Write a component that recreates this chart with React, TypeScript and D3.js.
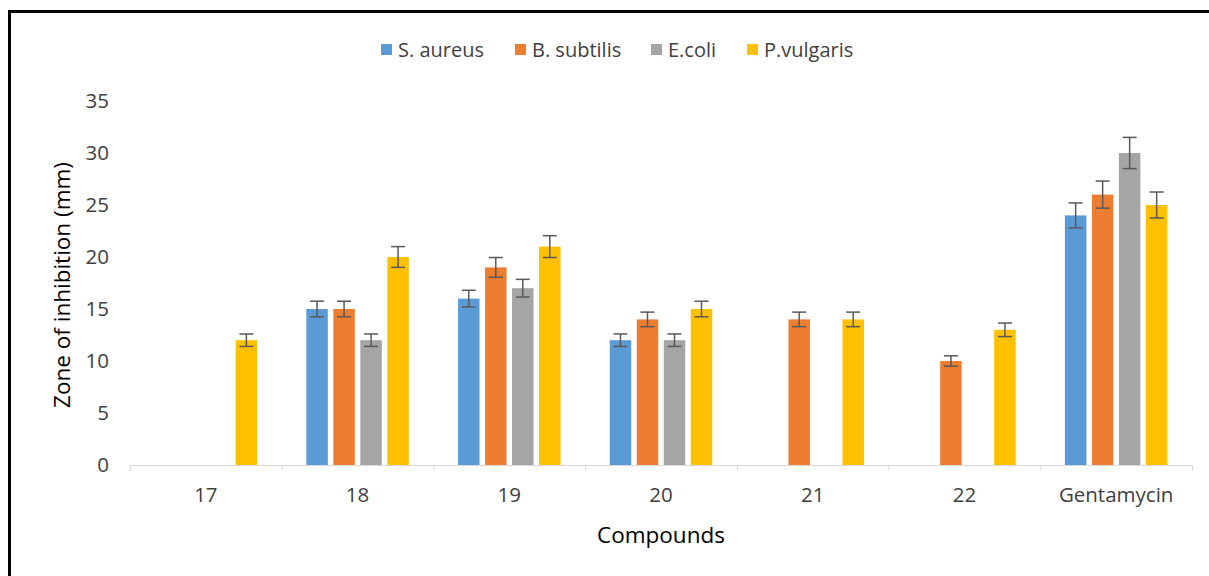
import React from "react";
import * as d3 from "d3";

const categories = ["17", "18", "19", "20", "21", "22", "Gentamycin"];
const seriesNames = ["S. aureus", "B. subtilis", "E.coli", "P.vulgaris"];
const sAureus = [0, 15, 16, 12, 0, 0, 24];
const bSubtilis = [0, 15, 19, 14, 14, 10, 26];
const eColi = [0, 12, 17, 12, 0, 0, 30];
const pVulgaris = [12, 20, 21, 15, 14, 13, 25];
const sAureusErr = [0, 0.75, 0.8, 0.6, 0, 0, 1.2];
const bSubtilisErr = [0, 0.75, 0.95, 0.7, 0.7, 0.5, 1.3];
const eColiErr = [0, 0.6, 0.85, 0.6, 0, 0, 1.5];
const pVulgarisErr = [0.6, 1.0, 1.05, 0.75, 0.7, 0.65, 1.25];
const yTicks = [0, 5, 10, 15, 20, 25, 30, 35];
const colors = ["#5B9BD5", "#ED7D31", "#A5A5A5", "#FFC000"];

const seriesValues = [sAureus, bSubtilis, eColi, pVulgaris];
const seriesErrors = [sAureusErr, bSubtilisErr, eColiErr, pVulgarisErr];

const FONT = "'Open Sans', 'DejaVu Sans', sans-serif";

export default function App() {
  const W = 1209;
  const H = 576;
  const x = d3.scaleBand<string>().domain(categories).range([130, 1192]).paddingInner(0).paddingOuter(0);
  const inner = d3
    .scaleBand<string>()
    .domain(seriesNames)
    .range([0, x.bandwidth()])
    .paddingInner(0.204)
    .paddingOuter(0.911);
  const y = d3.scaleLinear().domain([0, 35]).range([465, 101]);
  const capHalf = 7;
  const legendX = [381, 515, 651, 747];

  return (
    <svg
      width={W}
      height={H}
      style={{ position: "absolute", left: 0, top: 0, background: "#fff" }}
      fontFamily={FONT}
    >
      <rect x={0} y={0} width={W} height={H} fill="#fff" />
      <rect x={9.5} y={11.5} width={1400} height={800} fill="none" stroke="#000" strokeWidth={3} />

      {/* legend */}
      {seriesNames.map((s, i) => (
        <g key={s}>
          <rect x={legendX[i]} y={44} width={11} height={11} fill={colors[i]} />
          <text x={legendX[i] + 17} y={57} fontSize={20} fill="#404040">
            {s}
          </text>
        </g>
      ))}

      {/* y tick labels */}
      {yTicks.map((t) => (
        <text key={t} x={109} y={y(t) + 7} textAnchor="end" fontSize={20.5} fill="#404040">
          {t}
        </text>
      ))}

      {/* y title */}
      <text
        transform={`translate(70,${(y(0) + y(35)) / 2 + 2}) rotate(-90)`}
        textAnchor="middle"
        fontSize={22.5}
        fill="#000"
      >
        Zone of inhibition (mm)
      </text>

      {/* bars */}
      {categories.map((c, ci) => (
        <g key={c}>
          {seriesNames.map((s, si) => {
            const v = seriesValues[si][ci];
            if (!v) return null;
            const bx = (x(c) as number) + (inner(s) as number);
            return (
              <rect
                key={s}
                x={bx}
                y={y(v)}
                width={inner.bandwidth()}
                height={y(0) - y(v)}
                fill={colors[si]}
              />
            );
          })}
        </g>
      ))}

      {/* x axis */}
      <line x1={130} x2={1192} y1={y(0) + 0.5} y2={y(0) + 0.5} stroke="#D9D9D9" strokeWidth={1} />
      {[...categories.map((c) => x(c) as number), 1192].map((t, i) => (
        <line key={i} x1={t + 0.5} x2={t + 0.5} y1={y(0)} y2={y(0) + 6} stroke="#D9D9D9" strokeWidth={1} />
      ))}

      {/* error bars */}
      {categories.map((c, ci) => (
        <g key={c}>
          {seriesNames.map((s, si) => {
            const v = seriesValues[si][ci];
            const e = seriesErrors[si][ci];
            if (!v) return null;
            const cx = (x(c) as number) + (inner(s) as number) + inner.bandwidth() / 2;
            return (
              <g key={s} stroke="#595959" strokeWidth={1.5}>
                <line x1={cx} x2={cx} y1={y(v + e)} y2={y(v - e)} />
                <line x1={cx - capHalf} x2={cx + capHalf} y1={y(v + e)} y2={y(v + e)} />
                <line x1={cx - capHalf} x2={cx + capHalf} y1={y(v - e)} y2={y(v - e)} />
              </g>
            );
          })}
        </g>
      ))}

      {/* x tick labels */}
      {categories.map((c) => (
        <text
          key={c}
          x={(x(c) as number) + x.bandwidth() / 2}
          y={502}
          textAnchor="middle"
          fontSize={20.5}
          fill="#404040"
        >
          {c}
        </text>
      ))}

      {/* x title */}
      <text x={661} y={543} textAnchor="middle" fontSize={22.5} fill="#000">
        Compounds
      </text>
    </svg>
  );
}
